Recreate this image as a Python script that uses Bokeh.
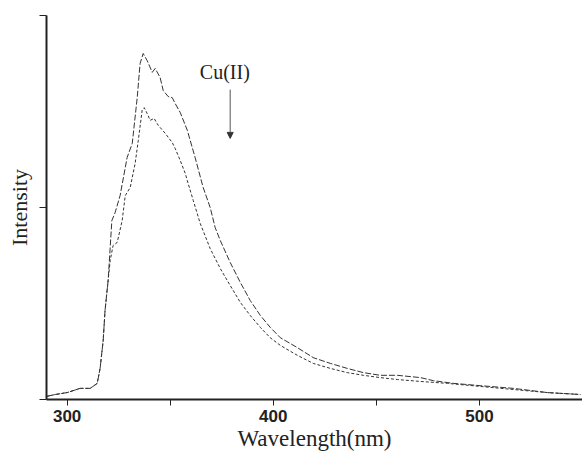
from bokeh.plotting import figure
from bokeh.models import Range1d, FixedTicker, Label, Arrow, NormalHead, CustomJSTickFormatter
from bokeh.embed import file_html
from bokeh.resources import INLINE

# Shared rising edge (both spectra coincide here)
wl_start = [290.0, 294.2, 300.0, 306.3, 311.2, 314.6, 316.0, 317.5, 318.4, 319.4]
int_start = [8, 13, 18, 29, 29, 42, 81, 154, 232, 284]

# Spectrum before Cu(II) addition (upper)
wl_free = [319.9, 321.7, 323.3, 325.7, 329.1, 331.6, 334.0, 335.4, 336.9, 338.8,
           341.3, 342.7, 345.1, 346.6, 349.0, 351.0, 352.4, 354.9, 358.3, 362.1,
           366.0, 369.4, 371.8, 374.3, 379.1, 384.0, 388.8, 393.7, 398.5, 403.4,
           411.7, 419.4, 427.7, 435.9, 443.7, 451.9, 460.2, 471.4, 477.7, 487.4,
           500.5, 516.5, 533.0, 549.0]
int_free = [310, 466, 487, 531, 630, 667, 786, 875, 901, 883,
            852, 862, 839, 805, 789, 786, 771, 747, 701, 630,
            552, 500, 448, 414, 357, 305, 258, 219, 188, 161,
            135, 109, 94, 81, 70, 63, 63, 57, 49, 42,
            36, 29, 18, 13]

# Spectrum after Cu(II) addition (lower)
wl_cu = [320.9, 322.3, 324.3, 326.7, 328.2, 330.6, 333.0, 334.5, 336.4, 337.4,
         338.8, 340.3, 342.2, 344.2, 347.6, 351.0, 352.4, 354.9, 357.3, 358.3,
         361.2, 364.6, 369.4, 374.3, 379.1, 384.0, 388.8, 393.7, 398.5, 403.4,
         411.7, 419.4, 427.7, 435.9, 443.7, 451.9, 460.2, 471.4, 484.5, 500.5,
         516.5, 533.0, 549.0]
int_cu = [362, 401, 409, 466, 531, 552, 615, 674, 753, 760,
          745, 727, 732, 714, 693, 669, 654, 622, 589, 570,
          518, 458, 393, 341, 297, 253, 219, 188, 161, 141,
          115, 94, 81, 70, 63, 57, 52, 47, 42, 34,
          26, 18, 13]

x_major = [300, 400, 500]
x_minor = [350, 450, 550]
y_ticks = [0, 500, 1000]

p = figure(width=582, height=455, output_backend="svg", toolbar_location=None,
           x_range=Range1d(290, 550), y_range=Range1d(0, 1000),
           min_border_left=46, min_border_right=0, min_border_top=15, min_border_bottom=56)
p.outline_line_color = None
p.grid.visible = False
p.background_fill_color = "white"

p.line(wl_start + wl_free, int_start + int_free, line_color="#333333", line_width=1,
       line_dash="6 2")
p.line(wl_start + wl_cu, int_start + int_cu, line_color="#333333", line_width=1,
       line_dash="3 2")

# axes
xa = p.xaxis[0]
xa.ticker = FixedTicker(ticks=x_major, minor_ticks=x_minor)
xa.axis_label = "Wavelength(nm)"
xa.axis_label_text_font = "Liberation Serif"
xa.axis_label_text_font_size = "23px"
xa.axis_label_text_font_style = "normal"
xa.axis_label_text_color = "#222222"
xa.axis_label_standoff = 1
xa.major_label_text_font = "Liberation Sans"
xa.major_label_text_font_style = "bold"
xa.major_label_text_font_size = "17px"
xa.major_label_text_color = "#222222"
xa.major_label_standoff = 4
xa.major_tick_out = 6
xa.major_tick_in = 0
xa.minor_tick_out = 6
xa.minor_tick_in = 0
xa.axis_line_width = 2
xa.axis_line_color = "#222222"
xa.major_tick_line_color = "#222222"
xa.minor_tick_line_color = "#222222"

ya = p.yaxis[0]
ya.ticker = FixedTicker(ticks=y_ticks, minor_ticks=[])
ya.formatter = CustomJSTickFormatter(code="return '';")
ya.axis_label = "Intensity"
ya.axis_label_text_font = "Liberation Serif"
ya.axis_label_text_font_size = "22px"
ya.axis_label_text_font_style = "normal"
ya.axis_label_text_color = "#222222"
ya.axis_label_standoff = 8
ya.major_label_standoff = 0
ya.major_tick_out = 7
ya.major_tick_in = 0
ya.axis_line_width = 2
ya.axis_line_color = "#222222"
ya.major_tick_line_color = "#222222"

# annotation
p.add_layout(Label(x=376.5, y=852, text="Cu(II)", text_font="Liberation Serif",
                   text_font_size="20px", text_align="center", text_baseline="middle",
                   text_color="#222222"))
p.add_layout(Arrow(x_start=379.1, y_start=807, x_end=379.1, y_end=680,
                   line_color="#555555", line_width=1,
                   end=NormalHead(size=6, fill_color="#333333", line_color="#333333")))

open("out.html", "w").write(file_html(p, INLINE))
